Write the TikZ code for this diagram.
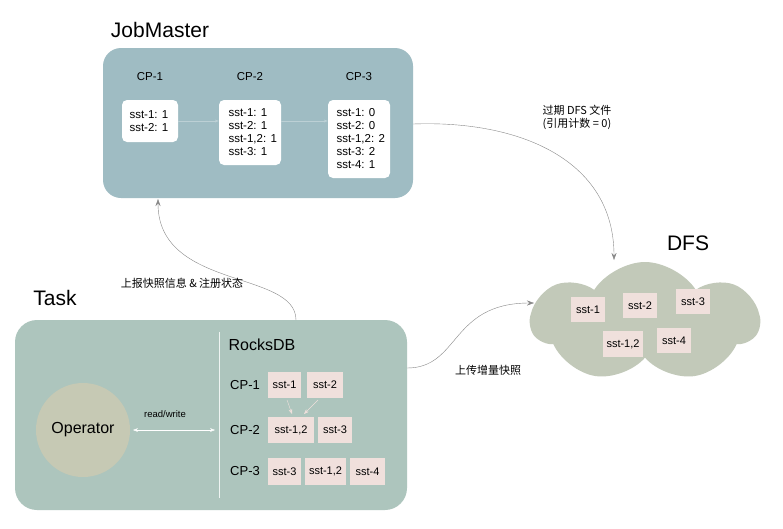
\documentclass[tikz,border=0pt]{standalone}
\usepackage{fontspec}
\setmainfont{Liberation Sans}
\newfontfamily\cjk{Noto Sans CJK SC}
\usetikzlibrary{arrows.meta,shapes.symbols}
\definecolor{jm}{HTML}{9FBCC3}
\definecolor{tk}{HTML}{ADC5BD}
\definecolor{op}{HTML}{C6C9B4}
\definecolor{cl}{HTML}{C2C9B9}
\definecolor{ss}{HTML}{F0E0DC}
\definecolor{ar}{HTML}{888888}
\begin{document}
\begin{tikzpicture}[x=1pt,y=-1pt,
 big/.style={font=\fontsize{21}{24}\selectfont},
 sm/.style={font=\fontsize{11.5}{13}\selectfont},
 wbox/.style={fill=white,rounded corners=5pt,inner sep=0pt},
 sst/.style={fill=ss,inner sep=0pt,font=\fontsize{11}{13}\selectfont},
 conn/.style={draw=ar,-{Stealth[length=7pt,width=5pt]}},
 lab/.style={font=\fontsize{11}{13}\selectfont\cjk,align=center}]
\useasboundingbox (0,0) rectangle (783,528);
\fill[white] (0,0) rectangle (783,528);
% JobMaster
\node[big] (jmt) at (160,30) {JobMaster};
\node[fill=jm,rounded corners=18pt,minimum width=310pt,minimum height=150pt,inner sep=0pt] (jm) at (258,123) {};
\node[sm] (c1) at (150,77) {CP-1};
\node[sm] (c2) at (250,77) {CP-2};
\node[sm] (c3) at (359,77) {CP-3};
\node[wbox,minimum width=56pt,minimum height=42pt] (b1) at (150,121) {};
\node[sm,align=left,anchor=west] at (126,121) {sst-1: 1\\sst-2: 1};
\node[wbox,minimum width=62pt,minimum height=65pt] (b2) at (250,132.5) {};
\node[sm,align=left,anchor=west] at (225,132.5) {sst-1: 1\\sst-2: 1\\sst-1,2: 1\\sst-3: 1};
\node[wbox,minimum width=62pt,minimum height=78pt] (b3) at (359,139) {};
\node[sm,align=left,anchor=west] at (333,139) {sst-1: 0\\sst-2: 0\\sst-1,2: 2\\sst-3: 2\\sst-4: 1};
\draw[draw=jm!70!white,-{Stealth[length=4pt]}] (b1.east) -- (b2.west |- b1.east);
\draw[draw=jm!70!white,-{Stealth[length=4pt]}] (b2.east |- b1.east) -- (b3.west |- b1.east);
% Task
\node[big] (tt) at (55,298) {Task};
\node[fill=tk,rounded corners=22pt,minimum width=392pt,minimum height=190pt,inner sep=0pt] (tk) at (211,415) {};
\node[circle,fill=op,minimum size=94pt,inner sep=0pt,font=\fontsize{16}{19}\selectfont] (op) at (83,430) {Operator};
\coordinate (d1) at (219,332); \coordinate (d2) at (219,498);
\draw[white!80!tk,line width=1pt] (d1) -- (d2);
\node[font=\fontsize{16}{19}\selectfont] (rdb) at (262,345) {RocksDB};
\node[font=\fontsize{13}{15}\selectfont] (r1) at (245,385) {CP-1};
\node[font=\fontsize{13}{15}\selectfont] (r2) at (245,430) {CP-2};
\node[font=\fontsize{13}{15}\selectfont] (r3) at (245,471.5) {CP-3};
\node[sst,minimum width=33pt,minimum height=26pt] (a1) at (284.5,385) {sst-1};
\node[sst,minimum width=36pt,minimum height=26pt] (a2) at (325,385) {sst-2};
\node[sst,minimum width=46pt,minimum height=26pt] (a3) at (291,430) {sst-1,2};
\node[sst,minimum width=34pt,minimum height=26pt] (a4) at (335,430) {sst-3};
\node[sst,minimum width=33pt,minimum height=27pt] (a5) at (284.5,471.5) {sst-3};
\node[sst,minimum width=41pt,minimum height=27pt] (a6) at (325.5,471.5) {sst-1,2};
\node[sst,minimum width=35pt,minimum height=27pt] (a7) at (367.5,471.5) {sst-4};
\draw[draw=ss,-{Stealth[length=5pt]}] (287,400) -- (292,414);
\draw[draw=ss,-{Stealth[length=5pt]}] (318,400) -- (304,414);
\draw[draw=white,{Stealth[length=5pt]}-{Stealth[length=5pt]}] (133,430) -- (215,430);
\node[font=\fontsize{9.5}{11}\selectfont] (rw) at (165,414) {read/write};
% DFS cloud
\node[big] (dfst) at (688,243) {DFS};
\node[cloud,cloud puffs=7,cloud puff arc=115,aspect=2.0,fill=cl,minimum width=228pt,minimum height=120pt,inner sep=0pt] (cl) at (645,322) {};
\node[sst,minimum width=34pt,minimum height=25pt] (d1b) at (588,309.5) {sst-1};
\node[sst,minimum width=34pt,minimum height=25pt] (d2b) at (640,305.5) {sst-2};
\node[sst,minimum width=34pt,minimum height=25pt] (d3b) at (693,301.5) {sst-3};
\node[sst,minimum width=40pt,minimum height=26pt] (d4b) at (623,344) {sst-1,2};
\node[sst,minimum width=34pt,minimum height=25pt] (d5b) at (674,340.5) {sst-4};
% connectors
\coordinate (t1) at (296,320);
\coordinate (j1) at (158,199);
\draw[conn] (t1) .. controls (296,270) and (158,290) .. (j1);
\node[lab] at (182,283) {上报快照信息 \& 注册状态};
\coordinate (j2) at (413,124);
\coordinate (c0) at (614,260);
\draw[conn] (j2) .. controls (520,120) and (614,160) .. (c0);
\node[lab] at (577,117) {过期 DFS 文件\\(引用计数 = 0)};
\coordinate (t2) at (407,368);
\coordinate (c4) at (534,303);
\draw[conn] (t2) .. controls (460,368) and (450,303) .. (c4);
\node[lab] at (488,370) {上传增量快照};
\end{tikzpicture}
\end{document}
